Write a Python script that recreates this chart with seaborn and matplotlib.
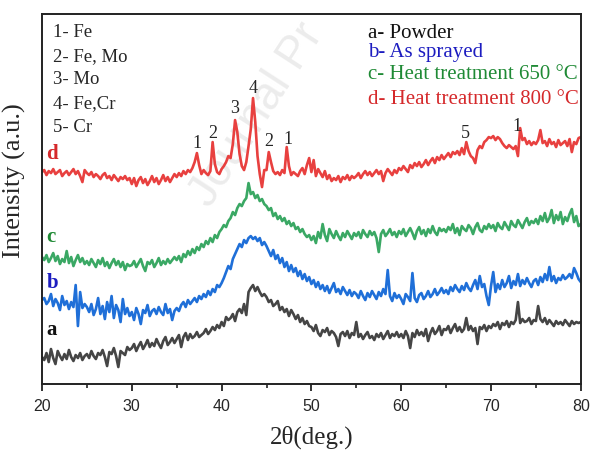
import numpy as np
import pandas as pd
import matplotlib.pyplot as plt
import seaborn as sns

# 2theta grid, 0.25 deg steps from 20 to 80
two_theta = np.round(np.arange(20, 80.001, 0.25), 2)

# intensities (arbitrary units), rows of 5 degrees
powder = [
    27, 24, 31, 22, 35, 26, 20, 33, 28, 24, 30, 25, 34, 27, 23, 29, 26, 31, 24, 28,
    30, 26, 33, 28, 25, 31, 29, 34, 27, 18, 32, 30, 36, 28, 17, 33, 31, 29, 37, 34,
    36, 40, 33, 38, 42, 35, 39, 44, 37, 41, 38, 45, 40, 36, 43, 47, 39, 42, 46, 41,
    45, 49, 37, 47, 51, 44, 50, 46, 48, 52, 47, 49, 51, 55, 50, 53, 57, 54, 59, 56,
    62, 58, 67, 64, 66, 70, 63, 72, 75, 71, 80, 69, 92, 96, 99, 93, 97, 92, 88, 90,
    87, 82, 84, 78, 80, 83, 74, 77, 72, 75, 68, 74, 70, 65, 69, 62, 66, 60, 63, 58,
    57, 53, 59, 51, 48, 54, 52, 56, 49, 53, 51, 47, 38, 50, 52, 48, 53, 46, 51, 49,
    62, 47, 50, 45, 49, 52, 46, 48, 44, 50, 47, 51, 45, 49, 53, 46, 50, 48, 52, 47,
    50, 46, 53, 48, 36, 51, 47, 54, 49, 52, 48, 55, 43, 51, 56, 50, 53, 58, 49, 55,
    54, 58, 51, 56, 60, 53, 57, 52, 55, 66, 54, 58, 53, 56, 40, 57, 55, 59, 53, 58,
    56, 60, 58, 62, 55, 61, 59, 63, 57, 62, 60, 64, 82, 61, 65, 62, 63, 66, 60, 64,
    63, 78, 65, 62, 66, 60, 64, 61, 58, 63, 60, 62, 59, 64, 61, 58, 63, 60, 62, 61,
    62,
]

as_sprayed = [
    84, 86, 80, 83, 90, 78, 85, 81, 74, 88, 79, 83, 75, 82, 77, 99, 58, 92, 76, 80,
    77, 72, 80, 69, 75, 86, 70, 78, 65, 82, 72, 88, 66, 79, 74, 62, 85, 70, 76, 68,
    72, 64, 76, 70, 60, 74, 71, 79, 68, 73, 75, 70, 77, 72, 69, 80, 71, 75, 64, 73,
    76, 73, 79, 82, 77, 84, 80, 83, 86, 82, 88, 85, 90, 87, 93, 89, 95, 92, 99, 97,
    101, 106, 112, 118, 115, 125, 130, 135, 140, 137, 144, 141, 146, 148, 145, 147, 143, 146, 139, 142,
    138, 133, 128, 134, 125, 129, 121, 126, 117, 122, 113, 119, 112, 116, 108, 113, 105, 110, 103, 107,
    100, 104, 97, 102, 95, 99, 93, 98, 91, 96, 101, 92, 95, 90, 97, 93, 89, 94, 88, 92,
    90, 86, 93, 88, 84, 91, 87, 93, 89, 85, 92, 88, 95, 90, 114, 88, 83, 91, 86, 89,
    85, 80, 90, 87, 83, 111, 86, 82, 89, 91, 85, 88, 93, 87, 90, 95, 89, 92, 96, 91,
    94, 90, 97, 93, 99, 95, 92, 98, 94, 101, 96, 93, 99, 104, 95, 108, 97, 100, 88, 79,
    98, 112, 92, 100, 95, 104, 97, 101, 108, 96, 103, 99, 110, 98, 104, 100, 106, 101, 97, 103,
    105, 99, 107, 102, 110, 104, 117, 103, 108, 101, 106, 104, 109, 105, 107, 110, 106, 116, 111, 105,
    102,
]

heat_650 = [
    127, 124, 129, 122, 126, 131, 123, 128, 120, 125, 122, 133, 121, 127, 118, 124, 129, 122, 126, 120,
    123, 119, 125, 121, 117, 124, 120, 126, 118, 122, 116, 121, 125, 119, 123, 117, 122, 114, 120, 118,
    119, 123, 117, 121, 125, 118, 113, 122, 120, 124, 117, 121, 126, 119, 123, 120, 125, 121, 124, 127,
    124, 128, 122, 130, 127, 133, 129, 135, 131, 137, 134, 140, 137, 143, 140, 146, 142, 149, 146, 152,
    155, 159, 157, 163, 166, 172, 169, 176, 180, 178, 183, 186, 201, 190, 192, 186, 189, 183, 185, 180,
    178, 174, 176, 168, 171, 165, 168, 163, 166, 160, 163, 158, 161, 155, 157, 152, 155, 150, 147, 149,
    144, 148, 141, 152, 146, 160, 149, 143, 155, 150, 146, 153, 148, 144, 151, 147, 153, 149, 145, 151,
    148, 152, 146, 154, 150, 147, 153, 149, 152, 146, 132, 150, 154, 148, 151, 155, 149, 152, 147, 153,
    150, 155, 148, 152, 156, 151, 145, 153, 157, 150, 154, 148, 155, 151, 158, 152, 149, 156, 153, 155,
    152, 157, 154, 160, 151, 156, 149, 158, 155, 153, 159, 156, 150, 157, 161, 154, 152, 158, 155, 160,
    156, 159, 153, 161, 157, 155, 162, 158, 154, 163, 159, 157, 164, 160, 156, 162, 166, 159, 163, 161,
    165, 160, 168, 163, 171, 162, 166, 174, 161, 169, 164, 172, 160, 167, 163, 170, 175, 162, 168, 158,
    160,
]

heat_800 = [
    212, 214, 209, 213, 211, 215, 210, 212, 214, 208, 211, 213, 209, 212, 215, 210, 213, 208, 202, 214,
    211, 209, 212, 207, 210, 208, 205, 209, 211, 206, 208, 204, 209, 206, 203, 207, 205, 208, 204, 206,
    200, 206, 198, 204, 207, 201, 205, 199, 203, 208, 202, 206, 200, 204, 209, 203, 207, 202, 206, 210,
    207, 211, 208, 213, 210, 214, 212, 216, 222, 231, 219, 210, 214, 211, 209, 213, 242, 220, 212, 210,
    215, 218, 222, 228, 226, 240, 264, 252, 230, 218, 214, 222, 238, 255, 286, 262, 228, 210, 197, 214,
    214, 232, 222, 213, 210, 212, 209, 214, 211, 237, 218, 209, 212, 210, 208, 213, 216, 210, 219, 226,
    212, 224, 208, 215, 211, 207, 213, 205, 209, 203, 206, 204, 208, 202, 207, 205, 209, 204, 208, 206,
    208, 211, 206, 210, 213, 209, 212, 208, 211, 214, 210, 213, 203, 211, 215, 212, 209, 214, 211, 216,
    214, 218, 215, 212, 219, 216, 221, 218, 222, 217, 220, 224, 219, 223, 226, 221, 227, 224, 229, 225,
    228, 231, 227, 232, 230, 233, 229, 236, 230, 242, 233, 228, 226, 221, 234, 238, 236, 242, 244, 247,
    246, 248, 244, 247, 245, 241, 238, 236, 239, 237, 235, 238, 228, 256, 244, 246, 240, 243, 239, 242,
    240, 244, 254, 241, 243, 238, 245, 240, 242, 237, 244, 239, 241, 243, 238, 245, 232, 242, 240, 246,
    247,
]

samples = ['a', 'b', 'c', 'd']
sample_names = ['a- Powder', 'b- As sprayed', 'c- Heat treatment 650 °C', 'd- Heat treatment 800 °C']
phase_list = ['1- Fe', '2- Fe, Mo', '3- Mo', '4- Fe,Cr', '5- Cr']
peak_ids = ['1', '2', '3', '4', '2', '1', '5', '1']
peak_2theta = [37.3, 39.0, 41.4, 43.55, 45.3, 47.4, 67.2, 72.9]

line_colors = {'a': '#454545', 'b': '#1f6fd8', 'c': '#3aa864', 'd': '#e8403f'}
text_colors = {'a': '#111111', 'b': '#1c1cc0', 'c': '#1f8a35', 'd': '#d5292b'}

df = pd.DataFrame({
    'two_theta': np.tile(two_theta, 4),
    'intensity': np.concatenate([powder, as_sprayed, heat_650, heat_800]),
    'sample': np.repeat(samples, len(two_theta)),
})

sns.set_style('white')
plt.rcParams['font.family'] = ['Liberation Serif', 'DejaVu Serif']

fig = plt.figure(figsize=(6, 4.55), dpi=100)
ax = fig.add_axes([0.07, 0.156, 0.898, 0.813])

# faint watermark behind the data
ax.text(0.35, 0.54, 'Journal Pr', rotation=57, rotation_mode='anchor', fontsize=33,
        color='#ececec', ha='left', va='baseline', family='Liberation Sans',
        transform=fig.transFigure, zorder=0)

sns.lineplot(data=df, x='two_theta', y='intensity', hue='sample', palette=line_colors,
             estimator=None, legend=False, linewidth=1.9, ax=ax)

ax.set_xlim(20, 80)
ax.set_ylim(0, 370)
ax.set_xticks(range(20, 81, 10))
ax.set_xticks(range(25, 80, 10), minor=True)
ax.set_yticks([])
ax.tick_params(axis='x', which='major', direction='out', length=5, width=1.3,
               color='#222222', labelsize=11.5, pad=6)
ax.tick_params(axis='x', which='minor', direction='out', length=3, width=1.2, color='#222222')
ax.tick_params(axis='x', which='both', bottom=True)
for lab in ax.get_xticklabels():
    lab.set_family('Liberation Sans')
for sp in ax.spines.values():
    sp.set_color('#222222')
    sp.set_linewidth(1.4)
ax.patch.set_alpha(0)

ax.set_xlabel('2θ(deg.)', fontsize=18, va='center')
ax.set_ylabel('Intensity (a.u.)', fontsize=19)
ax.xaxis.set_label_coords(0.5, -0.143)
ax.yaxis.set_label_coords(-0.03, 0.55)

# phase key, top left
for i, t in enumerate(phase_list):
    ax.text(0.02, 0.95 - i * 0.064, t, transform=ax.transAxes, fontsize=13.5, va='center')

# sample key, top right
for s, t, yf in zip(samples, sample_names, [0.948, 0.897, 0.837, 0.77]):
    ax.text(0.605, yf, t, transform=ax.transAxes, fontsize=15,
            va='center', color=text_colors[s])

# curve letters at the left
for s, yv in zip(samples, [54, 101, 147, 230]):
    ax.text(20.5, yv, s, fontsize=15, fontweight='bold', color=text_colors[s], va='center')

# peak numbers above the 800 °C pattern
for lab, pos, yv in zip(peak_ids, peak_2theta, [241, 251, 276, 296, 243, 245, 251, 258]):
    ax.text(pos, yv, lab, fontsize=13, ha='center', va='center')

fig.savefig('out.png', dpi=100)
